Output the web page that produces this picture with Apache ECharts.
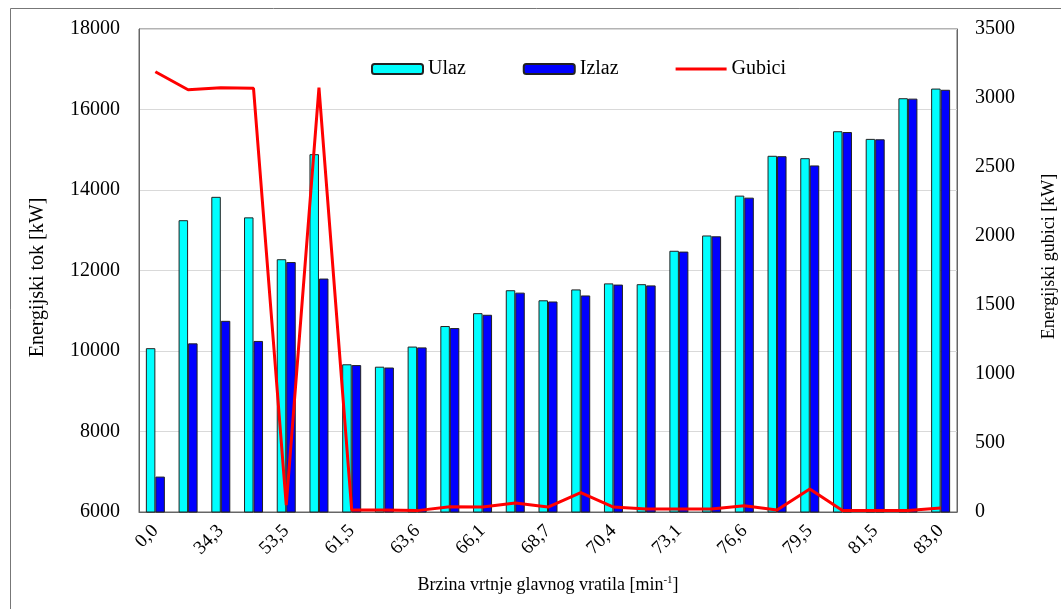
<!DOCTYPE html>
<html>
<head>
<meta charset="utf-8">
<script src="https://cdn.jsdelivr.net/npm/echarts@6/dist/echarts.min.js"></script>
<style>
    html, body { margin: 0; padding: 0; background: #fff; }
    #chart { width: 1061px; height: 609px; }
</style>
</head>
<body>
<div id="chart"></div>
<script>
// speed of the main shaft; odd positions carry no visible label
let categories = ["0,0", "", "34,3", "", "53,5", "", "61,5", "", "63,6", "", "66,1", "", "68,7",
    "", "70,4", "", "73,1", "", "76,6", "", "79,5", "", "81,5", "", "83,0"];

let ulaz = [10070, 13250, 13830, 13320, 12280, 14890, 9670, 9610, 10110, 10620, 10940, 11510, 11260,
    11530, 11680, 11660, 12490, 12870, 13860, 14850, 14790, 15460, 15270, 16280, 16520];

let izlaz = [6880, 10190, 10750, 10250, 12210, 11800, 9650, 9590, 10090, 10570, 10900, 11450, 11230,
    11380, 11650, 11630, 12470, 12850, 13810, 14840, 14610, 15440, 15260, 16270, 16490];

let gubici = [3190, 3060, 3075, 3070, 50, 3075, 15, 15, 10, 38, 36, 65, 36,
    140, 36, 22, 22, 22, 46, 15, 167, 10, 10, 10, 29];

let font = "Liberation Serif";
let chart = echarts.init(document.getElementById("chart"));

let option = {
    backgroundColor: "#fff",
    animation: false,
    textStyle: { fontFamily: font, color: "#000" },
    graphic: [{
        type: "rect",
        shape: { x: 10.5, y: 8.5, width: 1200, height: 800 },
        style: { fill: "none", stroke: "#777", lineWidth: 1 }
    }],
    legend: {
        data: ["Ulaz", "Izlaz", { name: "Gubici", icon: "path://M0,0 L51,0 L51,3 L0,3 Z" }],
        left: 371,
        top: 59,
        padding: 0,
        itemWidth: 51,
        itemHeight: 10,
        itemGap: 57,
        textStyle: { fontFamily: font, fontSize: 20, color: "#000" }
    },
    grid: {
        left: 139, right: 104, top: 29, bottom: 97,
        outerBoundsMode: "none",
        show: true, borderColor: "#666", borderWidth: 1
    },
    xAxis: {
        type: "category",
        data: categories,
        name: "Brzina vrtnje glavnog vratila [min{s|-1}]",
        nameLocation: "middle",
        nameGap: 63,
        nameTextStyle: {
            fontFamily: font, fontSize: 18, color: "#000",
            rich: { s: { fontFamily: font, fontSize: 11, color: "#000", padding: [0, 0, 10, 0] } }
        },
        axisLine: { lineStyle: { color: "#666" } },
        axisTick: { show: false },
        axisLabel: { interval: 1, rotate: 45, fontFamily: font, fontSize: 19, color: "#000", margin: 16 },
        splitLine: { show: false }
    },
    yAxis: [{
        type: "value",
        min: 6000,
        max: 18000,
        interval: 2000,
        name: "Energijski tok [kW]",
        nameLocation: "middle",
        nameRotate: 90,
        nameGap: 91,
        nameTextStyle: { fontFamily: font, fontSize: 20, color: "#000", padding: [0, 14, 0, 0] },
        axisLine: { show: true, lineStyle: { color: "#666" } },
        axisTick: { show: false },
        axisLabel: { fontFamily: font, fontSize: 20, color: "#000", margin: 19, formatter: v => String(v) },
        splitLine: { show: true, lineStyle: { color: "#d9d9d9", width: 1 } }
    }, {
        type: "value",
        min: 0,
        max: 3500,
        interval: 500,
        name: "Energijski gubici [kW]",
        nameLocation: "middle",
        nameRotate: 90,
        nameGap: 83,
        nameTextStyle: { fontFamily: font, fontSize: 18, color: "#000", padding: [0, 0, 0, 28] },
        axisLine: { show: true, lineStyle: { color: "#666" } },
        axisTick: { show: false },
        axisLabel: { fontFamily: font, fontSize: 20, color: "#000", margin: 18, formatter: v => String(v) },
        splitLine: { show: false }
    }],
    series: [{
        name: "Ulaz",
        type: "bar",
        data: ulaz,
        barWidth: 9.5,
        barGap: "0%",
        itemStyle: { color: "#00ffff", borderColor: "#222", borderWidth: 1 }
    }, {
        name: "Izlaz",
        type: "bar",
        data: izlaz,
        barWidth: 9.5,
        itemStyle: { color: "#0000ff", borderColor: "#222", borderWidth: 1 }
    }, {
        name: "Gubici",
        type: "line",
        yAxisIndex: 1,
        data: gubici,
        symbol: "none",
        lineStyle: { color: "#ff0000", width: 3 },
        itemStyle: { color: "#ff0000" },
        z: 5
    }]
};

chart.setOption(option);
</script>
</body>
</html>
